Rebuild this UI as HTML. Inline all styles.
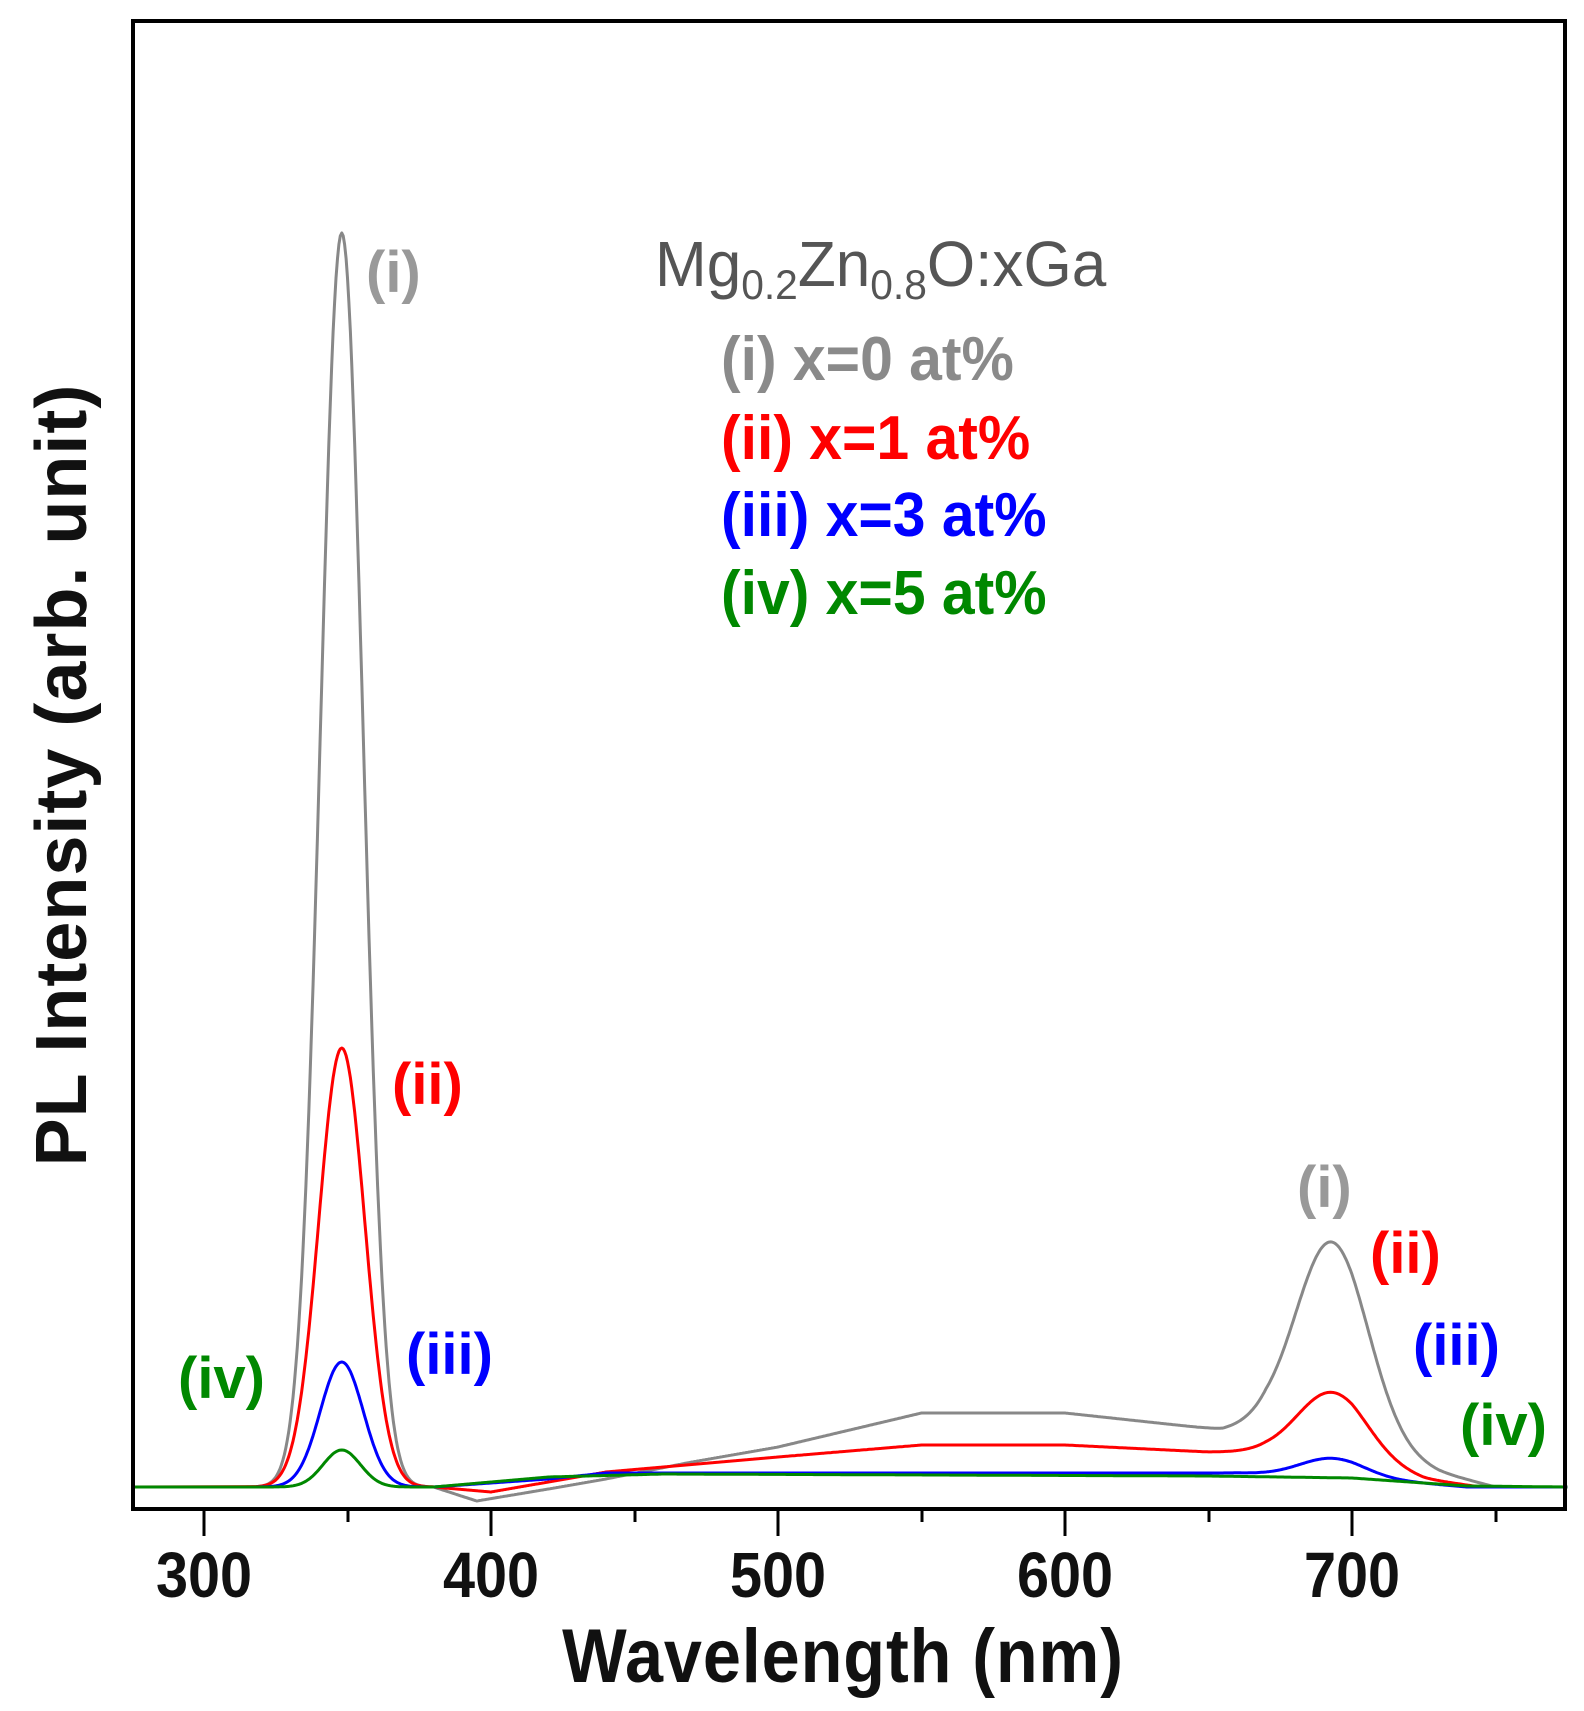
<!DOCTYPE html>
<html><head><meta charset="utf-8"><style>
html,body{margin:0;padding:0;background:#fff;}
svg{display:block;}
text{font-family:"Liberation Sans",Arial,sans-serif;}
</style></head><body>
<svg id="s" width="1584" height="1711" xmlns="http://www.w3.org/2000/svg">
<rect x="0" y="0" width="1584" height="1711" fill="#fff"/>
<g id="curves" fill="none" stroke-width="3" stroke-linejoin="round"></g>
<rect x="133" y="21" width="1432" height="1488" fill="none" stroke="#000" stroke-width="4"/>
<g stroke="#000" stroke-width="3">
<line x1="204" y1="1509" x2="204" y2="1536"/>
<line x1="348" y1="1509" x2="348" y2="1522"/>
<line x1="491" y1="1509" x2="491" y2="1536"/>
<line x1="635" y1="1509" x2="635" y2="1522"/>
<line x1="778" y1="1509" x2="778" y2="1536"/>
<line x1="922" y1="1509" x2="922" y2="1522"/>
<line x1="1065" y1="1509" x2="1065" y2="1536"/>
<line x1="1209" y1="1509" x2="1209" y2="1522"/>
<line x1="1352" y1="1509" x2="1352" y2="1536"/>
<line x1="1496" y1="1509" x2="1496" y2="1522"/>
</g>
<g font-size="64" fill="#111" text-anchor="middle" font-weight="bold">
<text transform="translate(204,1597) scale(0.9,1)">300</text>
<text transform="translate(491,1597) scale(0.9,1)">400</text>
<text transform="translate(778,1597) scale(0.9,1)">500</text>
<text transform="translate(1065,1597) scale(0.9,1)">600</text>
<text transform="translate(1352,1597) scale(0.9,1)">700</text>
</g>
<text transform="translate(843,1682) scale(0.9,1)" text-anchor="middle" font-size="76" font-weight="bold" fill="#111" letter-spacing="1">Wavelength (nm)</text>
<text transform="translate(86,775) rotate(-90)" text-anchor="middle" font-size="72" font-weight="bold" fill="#111" letter-spacing="1">PL Intensity (arb. unit)</text>
<g>
<text transform="translate(655,286) scale(0.97,1)" fill="#555" font-size="64">Mg<tspan font-size="42" dy="13">0.2</tspan><tspan dy="-13">Zn</tspan><tspan font-size="42" dy="13">0.8</tspan><tspan dy="-13">O:xGa</tspan></text>
<g font-size="62" font-weight="bold">
<text transform="translate(721,380) scale(0.95,1)" fill="#8a8a8a">(i) x=0 at%</text>
<text transform="translate(721,459) scale(0.95,1)" fill="#f00">(ii) x=1 at%</text>
<text transform="translate(721,536) scale(0.95,1)" fill="#00f">(iii) x=3 at%</text>
<text transform="translate(721,614) scale(0.95,1)" fill="#080">(iv) x=5 at%</text>
</g>
</g>
<g font-size="58" font-weight="bold">
<text x="366" y="292" fill="#999">(i)</text>
<text x="392" y="1104" fill="#f00">(ii)</text>
<text x="406" y="1374" fill="#00f">(iii)</text>
<text x="178" y="1398" fill="#080">(iv)</text>
<text x="1297" y="1207" fill="#999">(i)</text>
<text x="1370" y="1273" fill="#f00">(ii)</text>
<text x="1413" y="1365" fill="#00f">(iii)</text>
<text x="1460" y="1445" fill="#080">(iv)</text>
</g>
</svg>
<script>
(function(){
var B=1487;
function X(nm){return 204+(nm-300)*2.87;}
function g(x,c,s){return Math.exp(-0.5*Math.pow((x-c)/s,2));}
function interp(pts,x){
 if(x<=pts[0][0])return pts[0][1];
 for(var i=1;i<pts.length;i++){if(x<=pts[i][0]){var a=pts[i-1],b=pts[i];return a[1]+(b[1]-a[1])*(x-a[0])/(b[0]-a[0]);}}
 return pts[pts.length-1][1];
}
var series=[
 {c:"#888",start:310,p:[[348,1254,7.4],[693,196,12.5]],h:[[380,0],[395,-14],[420,-2],[440,8],[470,25],[500,40],[550,74],[600,74],[655,57],[670,62],[700,45],[730,15],[750,0]]},
 {c:"#f00",start:318,p:[[348,439,8],[693,65,12]],h:[[380,0],[400,-5],[420,5],[440,15],[500,30],[550,42],[600,42],[650,35],[670,35],[700,28],[725,8],[745,0]]},
 {c:"#00f",start:318,p:[[348,125,7.5],[693,18,11]],h:[[380,0],[420,8],[440,14],[660,14],[700,10],[740,0]]},
 {c:"#080",start:275,p:[[348,37,6.5]],h:[[380,0],[420,10],[460,13],[650,11],[700,9],[740,1],[775,0]]}
];
var g0=document.getElementById("curves"),ns="http://www.w3.org/2000/svg";
series.forEach(function(s){
 var d="";
 for(var nm=(s.start<300?275:s.start);nm<=775;nm+=0.5){
  var v=interp(s.h,nm);
  s.p.forEach(function(q){v+=q[1]*g(nm,q[0],q[2]);});
  d+=(d?"L":"M")+X(nm).toFixed(1)+","+(B-v).toFixed(1);
 }
 if(s.start>280){d="M"+X(275)+","+B+"L"+d.substring(1);}
 var p=document.createElementNS(ns,"path");p.setAttribute("d",d);p.setAttribute("stroke",s.c);g0.appendChild(p);
});
})();
</script>
</body></html>
